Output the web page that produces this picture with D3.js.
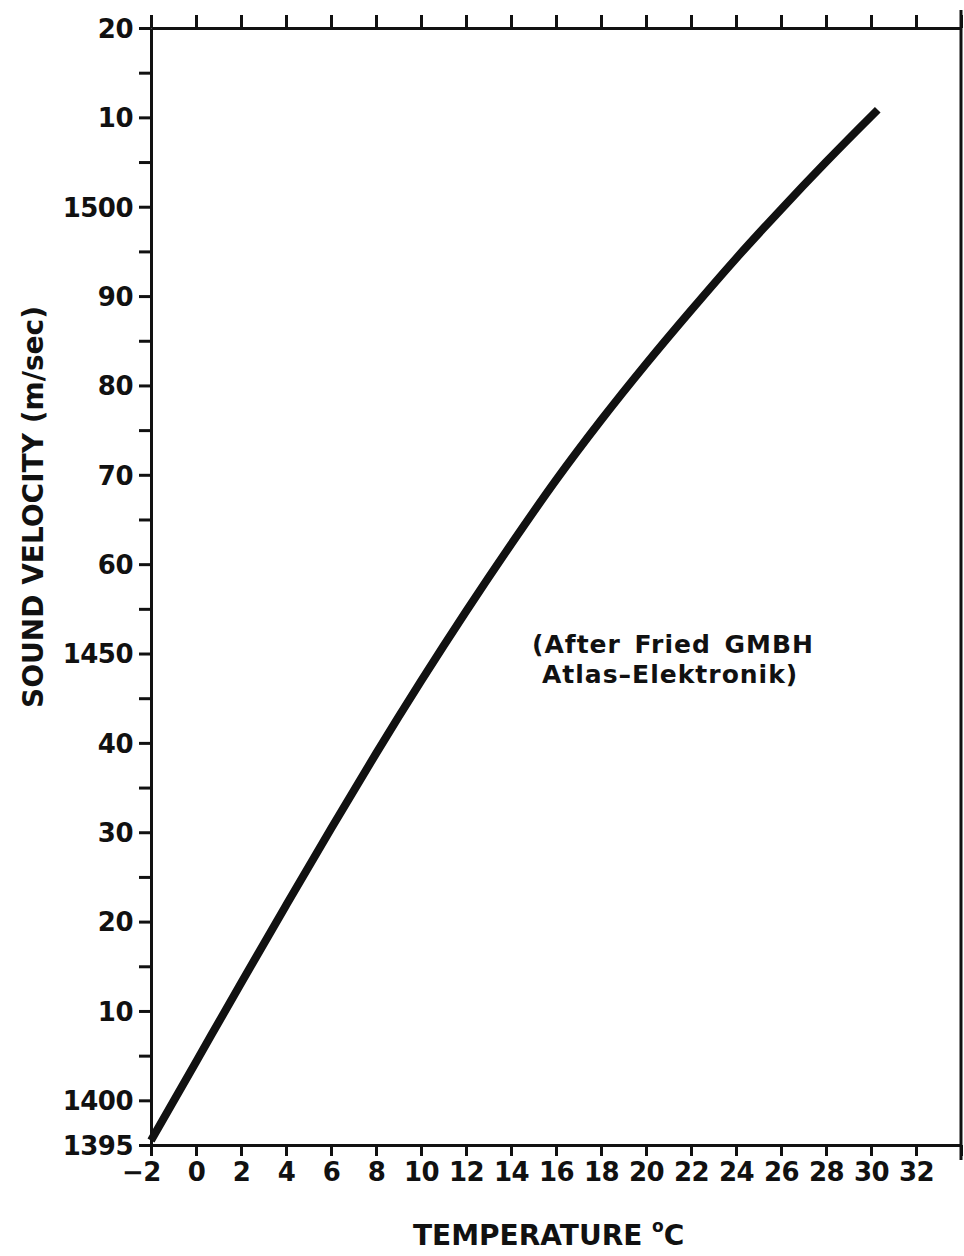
<!DOCTYPE html>
<html>
<head>
<meta charset="utf-8">
<script src="https://cdn.jsdelivr.net/npm/d3@7"></script>
<style>
body{margin:0;background:#fff;}
text{font-family:"DejaVu Sans",sans-serif;font-weight:bold;fill:#111;}
</style>
</head>
<body>
<div id="chart"></div>
<script>
// values (temperature in deg C, sound velocity in m/sec)
var temps      = [-2, 0, 2, 4, 6, 8, 10, 12, 14, 16, 18, 20, 22, 24, 26, 28, 30, 30.3];
var velocities = [1395.5, 1404.3, 1413.1, 1421.8, 1430.4, 1438.8, 1446.9, 1454.7, 1462.2, 1469.4, 1476.1, 1482.4, 1488.4, 1494.2, 1499.7, 1505.0, 1510.1, 1510.85];

var yTicks      = [1395,1400,1405,1410,1415,1420,1425,1430,1435,1440,1445,1450,1455,1460,1465,1470,1475,1480,1485,1490,1495,1500,1505,1510,1515,1520];
var yTickLabels = ["1395","1400","","10","","20","","30","","40","","1450","","60","","70","","80","","90","","1500","","10","","20"];
var xTicks      = [-2,0,2,4,6,8,10,12,14,16,18,20,22,24,26,28,30,32,34];
var xTickLabels = ["\u22122","0","2","4","6","8","10","12","14","16","18","20","22","24","26","28","30","32",""];

var width = 964, height = 1256;
var plotLeft = 151, plotRight = 961, plotTop = 28, plotBottom = 1145;

var svg = d3.select("#chart").append("svg")
	.attr("width", width)
	.attr("height", height);

var xscale = d3.scaleLinear().domain([-2, 34]).range([plotLeft, plotRight]);
var yscale = d3.scaleLinear().domain([1395, 1520]).range([plotBottom, plotTop]);

// left axis
var y_axis = d3.axisLeft(yscale)
	.tickValues(yTicks)
	.tickFormat(function(d, i){ return yTickLabels[i]; })
	.tickSize(12).tickSizeOuter(0).tickPadding(6);
var gy = svg.append("g")
	.attr("transform", "translate(" + plotLeft + ",0)")
	.call(y_axis);
gy.selectAll("text").attr("font-size", 26).attr("letter-spacing", -0.5).attr("dy", "0.36em");

// bottom axis
var x_axis = d3.axisBottom(xscale)
	.tickValues(xTicks)
	.tickFormat(function(d, i){ return xTickLabels[i]; })
	.tickSize(11).tickSizeOuter(0).tickPadding(7);
var gx = svg.append("g")
	.attr("transform", "translate(0," + plotBottom + ")")
	.call(x_axis);
gx.selectAll("text").attr("font-size", 26).attr("letter-spacing", -0.5)
	.attr("dx", function(d){ return d < 0 ? -10 : 0; });

// top axis, ticks only
var top_axis = d3.axisTop(xscale)
	.tickValues(xTicks)
	.tickFormat("")
	.tickSize(13).tickSizeOuter(0);
svg.append("g")
	.attr("transform", "translate(0," + plotTop + ")")
	.call(top_axis);

svg.selectAll(".domain, .tick line")
	.attr("stroke", "#111")
	.attr("stroke-width", 3);

// right border
svg.append("line")
	.attr("x1", xscale(34)).attr("x2", xscale(34))
	.attr("y1", 10).attr("y2", 1160)
	.attr("stroke", "#111").attr("stroke-width", 3);

// curve
var pts = temps.map(function(t, i){ return [t, velocities[i]]; });
var line = d3.line()
	.x(function(d){ return xscale(d[0]); })
	.y(function(d){ return yscale(d[1]); })
	.curve(d3.curveMonotoneX);
svg.append("path")
	.datum(pts)
	.attr("d", line)
	.attr("fill", "none")
	.attr("stroke", "#111")
	.attr("stroke-width", 8);

// axis titles
var xt = svg.append("text")
	.attr("x", 413).attr("y", 1245)
	.attr("font-size", 28)
	.text("TEMPERATURE ");
xt.append("tspan").attr("font-size", 17).attr("dy", -13).text("o");
xt.append("tspan").attr("dy", 13).text("C");

svg.append("text")
	.attr("transform", "translate(43,507) rotate(-90)")
	.attr("text-anchor", "middle")
	.attr("font-size", 28)
	.text("SOUND VELOCITY (m/sec)");

// note
svg.append("text")
	.attr("x", 532).attr("y", 653)
	.attr("font-size", 25)
	.attr("letter-spacing", 1)
	.attr("word-spacing", 4)
	.text("(After Fried GMBH");
svg.append("text")
	.attr("x", 542).attr("y", 683)
	.attr("font-size", 25)
	.attr("letter-spacing", 1)
	.text("Atlas\u2013Elektronik)");
</script>
</body>
</html>
